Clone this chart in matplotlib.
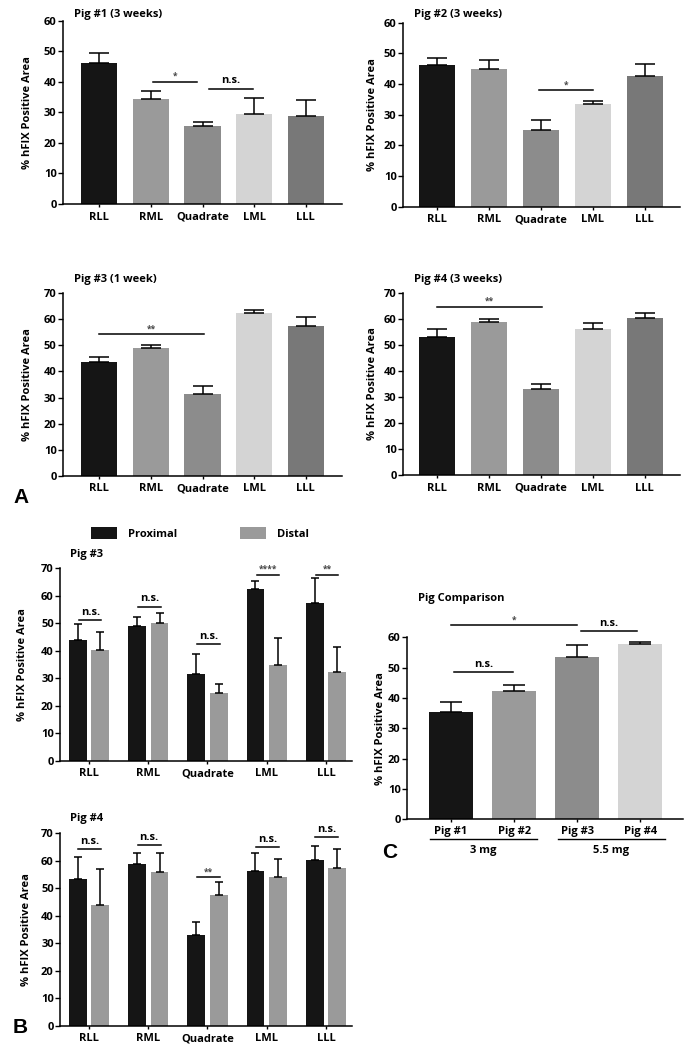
import matplotlib
matplotlib.use("Agg")
import matplotlib.pyplot as plt
from matplotlib.patches import Patch
from matplotlib.transforms import blended_transform_factory
import numpy as np

plt.rcParams['font.family'] = ['Open Sans', 'DejaVu Sans']
plt.rcParams['font.weight'] = 'bold'

# ---------------- data ----------------
lobes = ['RLL', 'RML', 'Quadrate', 'LML', 'LLL']

pig1_mean = [46.3, 34.4, 25.6, 29.5, 28.9]
pig1_err = [3.0, 2.6, 1.4, 5.2, 5.0]
pig2_mean = [46.2, 44.8, 25.0, 33.5, 42.6]
pig2_err = [2.3, 3.0, 3.3, 1.1, 3.9]
pig3_mean = [43.8, 48.9, 31.5, 62.6, 57.5]
pig3_err = [1.9, 1.4, 2.9, 1.0, 3.3]
pig4_mean = [53.1, 58.9, 33.0, 56.2, 60.4]
pig4_err = [3.1, 1.1, 1.9, 2.3, 1.9]

b3_prox = [43.9, 48.9, 31.7, 62.6, 57.4]
b3_prox_err = [5.7, 3.5, 7.3, 2.9, 8.9]
b3_dist = [40.2, 50.0, 24.8, 34.7, 32.4]
b3_dist_err = [6.8, 3.6, 3.1, 9.8, 8.9]

b4_prox = [53.3, 59.0, 33.1, 56.2, 60.4]
b4_prox_err = [8.2, 4.0, 4.8, 6.5, 5.1]
b4_dist = [43.9, 56.1, 47.5, 54.0, 57.4]
b4_dist_err = [13.0, 6.9, 4.7, 6.6, 6.9]

pigs = ['Pig #1', 'Pig #2', 'Pig #3', 'Pig #4']
pig_mean = [35.4, 42.2, 53.6, 57.7]
pig_err = [3.3, 2.1, 3.7, 0.9]
dose_groups = ['3 mg', '5.5 mg']

lobe_colors = ['#151515', '#9a9a9a', '#8c8c8c', '#d4d4d4', '#787878']
pig_colors = ['#151515', '#9a9a9a', '#8c8c8c', '#d4d4d4']
prox_color = '#151515'
dist_color = '#9a9a9a'

W, H = 693, 1050
fig = plt.figure(figsize=(W / 100, H / 100), dpi=100)
FS = 8


def make_ax(x0, x1, y0, y1):
    # x0,x1: left/right pixel; y0: pixel of zero line; y1: pixel of top tick
    return fig.add_axes([x0 / W, 1 - y0 / H, (x1 - x0) / W, (y0 - y1) / H])


def style(ax, ymax, step, ylabel_px):
    for s in ['top', 'right']:
        ax.spines[s].set_visible(False)
    for s in ['left', 'bottom']:
        ax.spines[s].set_linewidth(1.1)
    ax.set_ylim(0, ymax)
    ax.set_yticks(np.arange(0, ymax + 1, step))
    ax.tick_params(axis='y', length=3.5, width=1.0, labelsize=FS, pad=1)
    ax.tick_params(axis='x', length=2.5, width=1.0, labelsize=FS, pad=3)
    for lab in ax.get_xticklabels() + ax.get_yticklabels():
        lab.set_fontweight('bold')
    ax.set_ylabel('% hFIX Positive Area', fontsize=FS, fontweight='bold')
    pos = ax.get_position()
    xa = (ylabel_px / W - pos.x0) / pos.width
    ax.yaxis.set_label_coords(xa, 0.5)


def sig(ax, x1, x2, y, text, star=False):
    ax.plot([x1, x2], [y, y], color='black', lw=1.1, clip_on=False)
    ax.text((x1 + x2) / 2, y + (0.3 if star else 0.8), text, ha='center', va='bottom',
            fontsize=6 if star else FS, fontweight='bold',
            color='#444444' if star else 'black', clip_on=False)


def title(text, x, y):
    fig.text(x / W, 1 - y / H, text, ha='left', va='center', fontsize=FS, fontweight='bold')


def single_panel(ax, means, errs, labels, colors, cap):
    x = np.arange(len(means))
    ax.bar(x, means, width=0.7, color=colors, zorder=2)
    ax.errorbar(x, means, yerr=[np.zeros(len(errs)), errs], fmt='none', ecolor='black',
                elinewidth=1.1, capsize=cap, capthick=1.1, zorder=3)
    ax.set_xticks(x)
    ax.set_xticklabels(labels)


# ---------------- Panel A ----------------
ax1 = make_ax(63, 342, 204, 20.7)
single_panel(ax1, pig1_mean, pig1_err, lobes, lobe_colors, 7)
ax1.set_xlim(-0.70, 4.70)
style(ax1, 60, 10, 33)
sig(ax1, 1.05, 1.90, 40.0, '*', star=True)
sig(ax1, 2.13, 2.97, 37.8, 'n.s.')
title('Pig #1 (3 weeks)', 74, 15)

ax2 = make_ax(403, 680, 206.7, 22.7)
single_panel(ax2, pig2_mean, pig2_err, lobes, lobe_colors, 7)
ax2.set_xlim(-0.66, 4.68)
style(ax2, 60, 10, 378)
sig(ax2, 1.97, 3.01, 38.0, '*', star=True)
title('Pig #2 (3 weeks)', 414, 15)

ax3 = make_ax(63, 342, 475.7, 293.3)
single_panel(ax3, pig3_mean, pig3_err, lobes, lobe_colors, 7)
ax3.set_xlim(-0.70, 4.70)
style(ax3, 70, 10, 33)
sig(ax3, 0.0, 2.02, 54.3, '**', star=True)
title('Pig #3 (1 week)', 74, 279)

ax4 = make_ax(403, 680, 475.3, 292.7)
single_panel(ax4, pig4_mean, pig4_err, lobes, lobe_colors, 7)
ax4.set_xlim(-0.66, 4.68)
style(ax4, 70, 10, 378)
sig(ax4, 0.0, 2.01, 64.6, '**', star=True)
title('Pig #4 (3 weeks)', 414, 279)

# ---------------- Panel B ----------------
def grouped_panel(ax, prox, prox_err, dist, dist_err):
    x = np.arange(len(prox))
    off, w = 0.19, 0.30
    ax.bar(x - off, prox, width=w, color=prox_color, zorder=2, label='Proximal')
    ax.bar(x + off, dist, width=w, color=dist_color, zorder=2, label='Distal')
    ax.errorbar(x - off, prox, yerr=[np.zeros(len(prox)), prox_err], fmt='none', ecolor='black',
                elinewidth=1.1, capsize=2.6, capthick=1.1, zorder=3)
    ax.errorbar(x + off, dist, yerr=[np.zeros(len(dist)), dist_err], fmt='none', ecolor='black',
                elinewidth=1.1, capsize=2.6, capthick=1.1, zorder=3)
    ax.set_xticks(x)
    ax.set_xticklabels(lobes)
    ax.set_xlim(-0.49, 4.44)


ax5 = make_ax(60, 352, 760.7, 568.3)
grouped_panel(ax5, b3_prox, b3_prox_err, b3_dist, b3_dist_err)
style(ax5, 70, 10, 28)
b3_sig = [('n.s.', 51.2), ('n.s.', 56.1), ('n.s.', 42.5), ('****', 67.6), ('**', 67.6)]
for i, (t, y) in enumerate(b3_sig):
    sig(ax5, i - 0.17, i + 0.21, y, t, star=(t != 'n.s.'))
title('Pig #3', 70, 555)

ax6 = make_ax(60, 352, 1025.7, 833.3)
grouped_panel(ax6, b4_prox, b4_prox_err, b4_dist, b4_dist_err)
style(ax6, 70, 10, 32)
b4_sig = [('n.s.', 64.2), ('n.s.', 65.8), ('**', 54.0), ('n.s.', 64.9), ('n.s.', 68.6)]
for i, (t, y) in enumerate(b4_sig):
    sig(ax6, i - 0.18, i + 0.21, y, t, star=(t != 'n.s.'))
title('Pig #4', 70, 819)

handles = [Patch(facecolor=prox_color), Patch(facecolor=dist_color)]
fig.legend(handles, ['Proximal', 'Distal'], loc='center left',
           bbox_to_anchor=(91 / W, 1 - 533.5 / H), ncol=2, frameon=False,
           prop={'size': FS, 'weight': 'bold'}, handlelength=2.35, handleheight=1.2,
           handletextpad=1.0, columnspacing=5.6, borderpad=0, borderaxespad=0)

# ---------------- Panel C ----------------
ax7 = make_ax(407, 683, 819.3, 637.3)
single_panel(ax7, pig_mean, pig_err, pigs, pig_colors, 7.8)
ax7.set_xlim(-0.70, 3.68)
style(ax7, 60, 10, 386)
ax7.tick_params(axis='x', pad=2)
sig(ax7, 0.04, 0.99, 48.4, 'n.s.')
sig(ax7, 0.0, 1.99, 64.0, '*', star=True)
sig(ax7, 2.06, 2.95, 62.1, 'n.s.')
title('Pig Comparison', 418, 598)

tr = blended_transform_factory(ax7.transData, ax7.transAxes)
ly = (819.3 - 839) / (819.3 - 637.3)
ty = (819.3 - 851) / (819.3 - 637.3)
for (a, b), lab in zip([(-0.33, 1.36), (1.70, 3.39)], dose_groups):
    ax7.plot([a, b], [ly, ly], color='black', lw=1.0, transform=tr, clip_on=False)
    ax7.text((a + b) / 2, ty, lab, transform=tr, ha='center', va='center',
             fontsize=FS, fontweight='bold')

# ---------------- panel letters ----------------
for letter, x, y in [('A', 13, 503), ('B', 13, 1033), ('C', 382, 858)]:
    fig.text(x / W, 1 - y / H, letter, ha='left', va='baseline', fontsize=15,
             fontweight='bold', family='Liberation Sans')

fig.savefig('out.png', dpi=100)
